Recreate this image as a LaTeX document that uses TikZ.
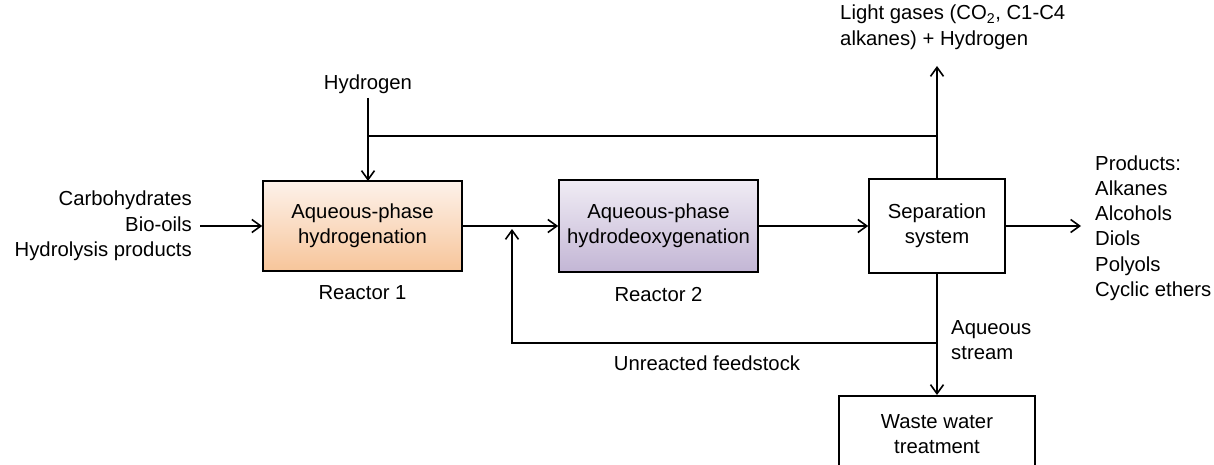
\documentclass[tikz,border=0pt]{standalone}
\usepackage{fontspec}
\setmainfont{Liberation Sans}
\usetikzlibrary{arrows.meta}
\definecolor{peachtop}{HTML}{FDF2EA}
\definecolor{peachbot}{HTML}{F7C59A}
\definecolor{lilactop}{HTML}{F0ECF4}
\definecolor{lilacbot}{HTML}{C3B6D5}
\tikzset{
  unit/.style={draw=black, line width=1.6pt, align=center, inner sep=0pt},
  lbl/.style={inner sep=0pt, font=\fontsize{20.3}{25.3}\selectfont},
  flow/.style={line width=1.6pt, -{Straight Barb[length=9pt,width=13pt,line width=1.6pt]}},
  pipe/.style={line width=1.6pt},
  every node/.style={font=\fontsize{20.3}{25.3}\selectfont}
}
\begin{document}
\begin{tikzpicture}[x=1pt,y=-1pt]
\useasboundingbox (0,0) rectangle (1214,465);
\clip (0,0) rectangle (1214,465);

% process units
\node[unit, top color=peachtop, bottom color=peachbot, minimum width=199, minimum height=90]
  (r1) at (362.5,226) {Aqueous-phase\\hydrogenation};
\node[unit, top color=lilactop, bottom color=lilacbot, minimum width=199, minimum height=92]
  (r2) at (658.5,226) {Aqueous-phase\\hydrodeoxygenation};
\node[unit, fill=white, minimum width=136, minimum height=94]
  (sep) at (937,226) {Separation\\system};
\node[unit, fill=white, minimum width=196, minimum height=76, anchor=north]
  (waste) at (937,395) {Waste water\\treatment};

% labels
\node[lbl] (r1lab) at (362.5,293) {Reactor 1};
\node[lbl] (r2lab) at (658.5,295) {Reactor 2};
\node[lbl] (h2) at (368,84) {Hydrogen};
\node[lbl, align=right, anchor=east] (feed) at (192,226) {Carbohydrates\\Bio-oils\\Hydrolysis products};
\node[lbl, align=left, anchor=north west] (gas) at (840,5) {Light gases (CO\textsubscript{2}, C1-C4\\alkanes) + Hydrogen};
\node[lbl, align=left, anchor=west] (prod) at (1095,228) {Products:\\Alkanes\\Alcohols\\Diols\\Polyols\\Cyclic ethers};
\node[lbl, align=left, anchor=west] (aq) at (951,340) {Aqueous\\stream};
\node[lbl] (unr) at (707,363) {Unreacted feedstock};

% junction points
\coordinate (h2top) at (368,98);
\coordinate (h2in) at (368,181);
\coordinate (h2j) at (368,136);
\coordinate (gasj) at (937,136);
\coordinate (gasout) at (937,66);
\coordinate (recj) at (937,343);
\coordinate (recl) at (512,343);
\coordinate (recin) at (512,229);
\coordinate (feedout) at (200,226);
\coordinate (prodin) at (1081,226);

% streams
\draw[flow] (h2top) -- (h2in);
\draw[pipe] (h2j) -- (gasj);
\draw[flow] (sep.north) -- (gasout);
\draw[flow] (feedout) -- (r1.west);
\draw[flow] (r1.east) -- (r2.west);
\draw[flow] (r2.east) -- (sep.west);
\draw[flow] (sep.east) -- (prodin);
\draw[flow] (sep.south) -- (waste.north);
\draw[flow] (recj) -- (recl) -- (recin);
\end{tikzpicture}
\end{document}
